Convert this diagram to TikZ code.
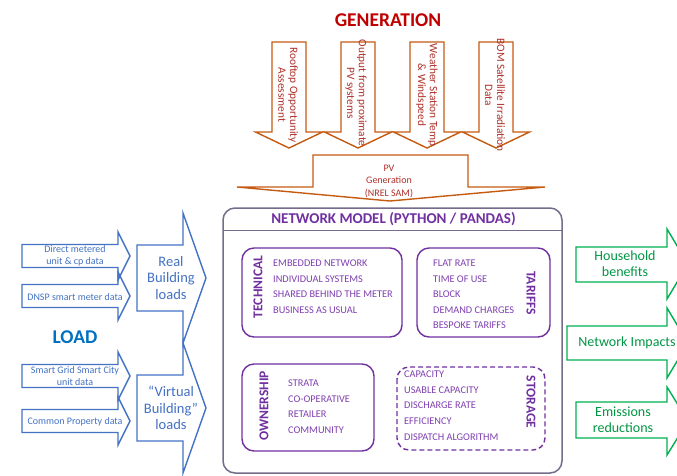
\documentclass[tikz,border=0pt]{standalone}
\usepackage{fontspec}
\setmainfont{Carlito}
\definecolor{genred}{HTML}{C00000}
\definecolor{genbrown}{HTML}{C55A11}
\definecolor{gentext}{HTML}{B0302A}
\definecolor{loadblue}{HTML}{4472C4}
\definecolor{loadtitle}{HTML}{0070C0}
\definecolor{netgray}{HTML}{756C8C}
\definecolor{purp}{HTML}{7030A0}
\definecolor{purptext}{HTML}{7F3FB0}
\definecolor{outgreen}{HTML}{00B050}
\begin{document}
\begin{tikzpicture}[x=1pt,y=-1pt,
  genarrow/.style={draw=genbrown,line width=1.4pt,line join=miter},
  loadarrow/.style={draw=loadblue,line width=1.4pt,line join=miter},
  outarrow/.style={draw=outgreen,line width=1.4pt,line join=miter},
  gentxt/.style={text=gentext,font=\fontsize{11.3}{11.8}\selectfont,align=center,inner sep=0pt},
  smalltxt/.style={text=loadblue,font=\fontsize{10}{11.5}\selectfont,align=center,inner sep=0pt},
  bigtxt/.style={text=loadblue,font=\fontsize{14.5}{16.5}\selectfont,align=center,inner sep=0pt},
  outtxt/.style={text=outgreen!85!black,font=\fontsize{14}{16}\selectfont,align=center,inner sep=0pt},
  panel/.style={draw=purp,line width=1.4pt,rounded corners=12pt},
  itemtxt/.style={text=purptext,font=\fontsize{10.3}{15.6}\selectfont,align=left,anchor=west,inner sep=0pt},
  paneltitle/.style={text=purp,font=\bfseries\fontsize{13.5}{15}\selectfont,inner sep=0pt}]
\useasboundingbox (0,0) rectangle (677,475);
\clip (0,0) rectangle (677,475);
\fill[white] (0,0) rectangle (677,475);

% ---------- GENERATION ----------
\node[text=genred,font=\bfseries\fontsize{19.5}{21}\selectfont,inner sep=0pt] (gen) at (388,20) {GENERATION};
\foreach \c in {289,358,427,496}{
  \draw[genarrow] ({\c-17},42) -- ({\c+17},42) -- ({\c+17},132) -- ({\c+33.5},132)
     -- (\c,148) -- ({\c-33.5},132) -- ({\c-17},132) -- cycle;
}
\node[gentxt,rotate=-90] (g1) at (288,95) {Rooftop Opportunity\\Assessment};
\node[gentxt,rotate=-90] (g2) at (356,93) {Output from proximate\\PV systems};
\node[gentxt,rotate=-90] (g3) at (427,95) {Weather Station Temp\\\& Windspeed};
\node[gentxt,rotate=-90] (g4) at (495,95) {BOM Satellite Irradiation\\Data};

% PV generation arrow
\draw[genarrow] (313,155) -- (468,155) -- (468,187) -- (545,187) -- (390,201)
   -- (237,187) -- (313,187) -- cycle;
\node[gentxt,font=\fontsize{10}{12.5}\selectfont] (pv) at (389,181) {PV\\Generation\\(NREL SAM)};

% ---------- NETWORK MODEL ----------
\draw[draw=netgray,line width=1.5pt,rounded corners=12pt] (223,208) rectangle (562,473);
\draw[draw=netgray,line width=1pt] (223,230) -- (562,230);
\node[text=purp,font=\bfseries\fontsize{15}{16}\selectfont,inner sep=0pt] (nm) at (393.5,219) {NETWORK MODEL (PYTHON / PANDAS)};

\draw[panel] (242,248) rectangle (402,337);
\node[paneltitle,rotate=90] (tech) at (258,287) {TECHNICAL};
\node[itemtxt] (techitems) at (273,286.5) {EMBEDDED NETWORK\\INDIVIDUAL SYSTEMS\\SHARED BEHIND THE METER\\BUSINESS AS USUAL};

\draw[panel] (417,248) rectangle (550,337);
\node[paneltitle,rotate=-90] (tar) at (531,293) {TARIFFS};
\node[itemtxt] (taritems) at (433,294.5) {FLAT RATE\\TIME OF USE\\BLOCK\\DEMAND CHARGES\\BESPOKE TARIFFS};

\draw[panel] (242,364) rectangle (374,451);
\node[paneltitle,rotate=90] (own) at (264,406) {OWNERSHIP};
\node[itemtxt] (ownitems) at (288,406.5) {STRATA\\CO-OPERATIVE\\RETAILER\\COMMUNITY};

\draw[panel,dashed,dash pattern=on 5pt off 3pt] (397,367) rectangle (545,450);
\node[paneltitle,rotate=-90] (sto) at (531,402) {STORAGE};
\node[itemtxt] (stoitems) at (404,405.6) {CAPACITY\\USABLE CAPACITY\\DISCHARGE RATE\\EFFICIENCY\\DISPATCH ALGORITHM};

% ---------- LOAD ----------
\node[text=loadtitle,font=\bfseries\fontsize{19.5}{21}\selectfont,inner sep=0pt] (load) at (75,337) {LOAD};
\foreach \y in {256,296,376,421}{
  \draw[loadarrow] (22,{\y-11.5}) -- (118,{\y-11.5}) -- (118,{\y-24}) -- (130,\y)
     -- (118,{\y+24}) -- (118,{\y+11.5}) -- (22,{\y+11.5}) -- cycle;
}
\node[smalltxt] (l1) at (75,256) {Direct metered\\unit \& cp data};
\node[smalltxt] (l2) at (75,297) {DNSP smart meter data};
\node[smalltxt] (l3) at (75,376) {Smart Grid Smart City\\unit data};
\node[smalltxt] (l4) at (75,422) {Common Property data};

\foreach \y in {278,408}{
  \draw[loadarrow] (137,{\y-33}) -- (183,{\y-33}) -- (183,{\y-65}) -- (206,\y)
     -- (183,{\y+65}) -- (183,{\y+33}) -- (137,{\y+33}) -- cycle;
}
\node[bigtxt] (real) at (171,278) {Real\\Building\\loads};
\node[bigtxt] (virt) at (171,408) {``Virtual\\Building''\\loads};

% ---------- OUTPUTS ----------
\draw[outarrow] (576,247) -- (667,247) -- (667,229) -- (688,264) -- (667,299) -- (667,282) -- (576,282) -- cycle;
\draw[outarrow] (567,326) -- (667,326) -- (667,308) -- (688,343) -- (667,378) -- (667,360) -- (567,360) -- cycle;
\draw[outarrow] (576,402) -- (667,402) -- (667,387) -- (688,421) -- (667,455) -- (667,438) -- (576,438) -- cycle;
\node[outtxt] (o1) at (625,264) {Household\\benefits};
\node[outtxt] (o2) at (627,343) {Network Impacts};
\node[outtxt] (o3) at (623,420) {Emissions\\reductions};
\end{tikzpicture}
\end{document}
